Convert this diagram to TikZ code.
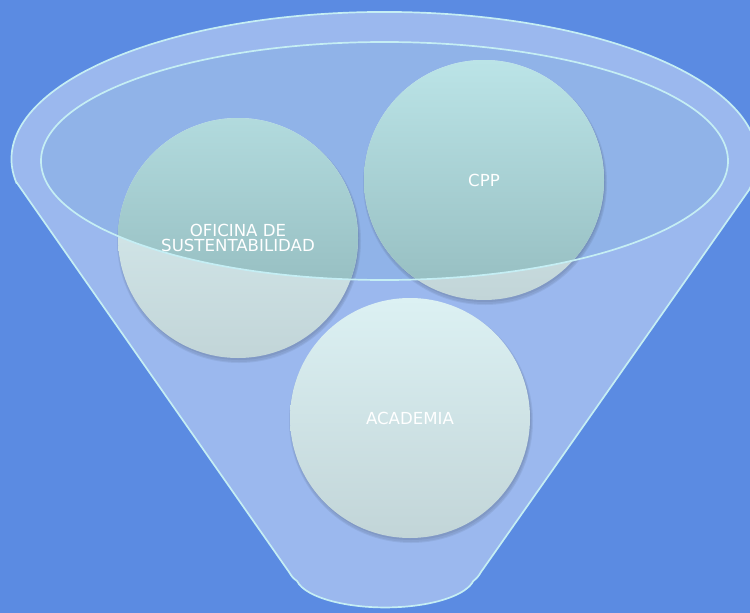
\documentclass[tikz,border=0pt]{standalone}
\usepackage{fontspec}
\setmainfont{DejaVu Sans}
\definecolor{bgblue}{RGB}{91,139,226}
\definecolor{funnelfill}{RGB}{155,184,238}
\definecolor{innerfill}{RGB}{144,179,232}
\definecolor{rimline}{RGB}{197,238,244}
\definecolor{ctop}{RGB}{220,241,243}
\definecolor{cbot}{RGB}{194,213,216}
\definecolor{ttop}{RGB}{190,231,234}
\definecolor{tbot}{RGB}{152,192,195}
\tikzset{
  rim/.style={draw=rimline, line width=1.7pt},
  ballshadow/.style={fill=black, opacity=0.06},
  balllabel/.style={circle, minimum size=240pt, inner sep=0pt, text=white, align=center,
    font=\fontsize{16.6}{15.5}\selectfont},
}
\newcommand{\innerellipse}{(384.5,161) ellipse [x radius=343.5, y radius=119]}
\newcommand{\ballfill}[2]{%
  \fill[ballshadow] (#1+1,#2+3) circle (122);
  \fill[ballshadow] (#1+1,#2+3) circle (121);
  \fill[ballshadow] (#1+1,#2+2) circle (120);
  \shade[top color=ctop, bottom color=cbot] (#1,#2) circle (120);
  \begin{scope}
    \clip (#1,#2) circle (120);
    \clip \innerellipse;
    \shade[top color=ttop, bottom color=tbot] (#1-121,42) rectangle (#1+121,280);
  \end{scope}}
\begin{document}
\begin{tikzpicture}[x=1pt,y=-1pt]
\fill[bgblue] (0,0) rectangle (750,613);
\useasboundingbox (0,0) rectangle (750,613);
% funnel body
\path[rim, fill=funnelfill] (17,183) -- (289,572)
  .. controls (292,577) and (293,578) .. (297,581)
  arc[start angle=170, end angle=10, x radius=89.5, y radius=32]
  .. controls (477,578) and (478,577) .. (481,572)
  -- (749,190)
  arc[start angle=12.2, end angle=-189.4, x radius=373, y radius=147] -- cycle;
% inner opening tint
\fill[innerfill] \innerellipse;
% balls
\ballfill{484}{180}
\ballfill{238}{238}
\ballfill{410}{418}
% inner opening rim
\draw[rim] \innerellipse;
% labels
\node[balllabel] (cpp) at (484,180) {CPP};
\node[balllabel] (ofi) at (238,238) {OFICINA DE\\SUSTENTABILIDAD};
\node[balllabel] (aca) at (410,418) {ACADEMIA};
\end{tikzpicture}
\end{document}
